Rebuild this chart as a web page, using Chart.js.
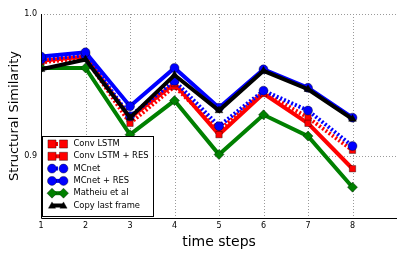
<!DOCTYPE html>
<html>
<head>
<meta charset="utf-8">
<script src="https://cdn.jsdelivr.net/npm/chart.js@4"></script>
<style>
  html, body { margin: 0; padding: 0; background: #fff; }
</style>
</head>
<body>
<canvas id="ssim" width="407" height="255"></canvas>
<script>
const steps = [1, 2, 3, 4, 5, 6, 7, 8];
const yTicks = [0.9, 1.0];

const convLstm    = [0.966, 0.969, 0.923, 0.949, 0.918, 0.945, 0.927, 0.904];
const convLstmRes = [0.967, 0.970, 0.927, 0.951, 0.915, 0.944, 0.923, 0.891];
const mcnet       = [0.968, 0.971, 0.928, 0.953, 0.921, 0.946, 0.932, 0.907];
const mcnetRes    = [0.970, 0.973, 0.935, 0.962, 0.934, 0.961, 0.948, 0.927];
const matheiu     = [0.962, 0.962, 0.915, 0.939, 0.901, 0.929, 0.914, 0.878];
const copyLast    = [0.961, 0.968, 0.927, 0.957, 0.932, 0.960, 0.947, 0.926];

Chart.defaults.font.family = "'DejaVu Sans', sans-serif";
Chart.defaults.color = '#000';

const pts = arr => arr.map((v, i) => ({ x: steps[i], y: v }));

function series(label, values, color, style, dotted, order) {
  return {
    label: label,
    data: pts(values),
    borderColor: color,
    backgroundColor: color,
    borderWidth: 4,
    borderDash: dotted ? [2, 2] : [],
    pointStyle: style,
    pointRadius: style === 'rectRot' ? 5 : 4.5,
    pointBorderColor: 'rgba(0,0,0,0.55)',
    pointBorderWidth: 0.7,
    pointBackgroundColor: color,
    tension: 0,
    order: order
  };
}

const datasets = [
  series('Conv LSTM', convLstm, '#ff0000', 'rect', true, 5),
  series('Conv LSTM + RES', convLstmRes, '#ff0000', 'rect', false, 4),
  series('MCnet', mcnet, '#0000ff', 'circle', true, 3),
  series('MCnet + RES', mcnetRes, '#0000ff', 'circle', false, 2),
  series('Matheiu et al', matheiu, '#008000', 'rectRot', false, 1),
  series('Copy last frame', copyLast, '#000000', 'triangle', false, 0)
];

function drawMarker(ctx, style, x, y, r) {
  ctx.beginPath();
  if (style === 'rect') {
    ctx.rect(x - r * 0.9, y - r * 0.9, r * 1.8, r * 1.8);
  } else if (style === 'circle') {
    ctx.arc(x, y, r, 0, Math.PI * 2);
  } else if (style === 'rectRot') {
    ctx.moveTo(x, y - r); ctx.lineTo(x + r, y); ctx.lineTo(x, y + r); ctx.lineTo(x - r, y);
    ctx.closePath();
  } else {
    ctx.moveTo(x, y - r * 0.8); ctx.lineTo(x + r * 0.8, y + r * 0.6); ctx.lineTo(x - r * 0.8, y + r * 0.6);
    ctx.closePath();
  }
  ctx.fill();
  ctx.stroke();
}

// dotted grid + left/bottom spines, matplotlib style
const mplGrid = {
  id: 'mplGrid',
  beforeDatasetsDraw(chart) {
    const ctx = chart.ctx;
    const a = chart.chartArea;
    const xs = chart.scales.x, ys = chart.scales.y;
    ctx.save();
    ctx.strokeStyle = '#9a9a9a';
    ctx.lineWidth = 1;
    ctx.setLineDash([1, 2]);
    steps.forEach(v => {
      const x = Math.round(xs.getPixelForValue(v)) + 0.5;
      ctx.beginPath(); ctx.moveTo(x, a.top); ctx.lineTo(x, a.bottom); ctx.stroke();
    });
    yTicks.forEach(v => {
      const y = Math.round(ys.getPixelForValue(v)) + 0.5;
      ctx.beginPath(); ctx.moveTo(a.left, y); ctx.lineTo(a.right, y); ctx.stroke();
    });
    ctx.restore();
  },
  afterDraw(chart) {
    const ctx = chart.ctx;
    const a = chart.chartArea;
    const xl = Math.round(a.left) + 0.5, yb = Math.round(a.bottom) + 0.5;
    ctx.save();
    ctx.setLineDash([]);
    ctx.strokeStyle = '#000';
    ctx.lineWidth = 1;
    ctx.beginPath();
    ctx.moveTo(xl, a.top);
    ctx.lineTo(xl, yb);
    ctx.lineTo(a.right, yb);
    ctx.stroke();
    ctx.restore();
  }
};

// matplotlib style legend inside the lower left corner of the plot
const boxLegend = {
  id: 'boxLegend',
  afterDraw(chart) {
    const ctx = chart.ctx;
    const area = chart.chartArea;
    const left = Math.round(area.left) + 1, top = Math.round(area.bottom) - 82;
    const w = 111, h = 80, rowH = 12.3;
    ctx.save();
    ctx.fillStyle = '#fff';
    ctx.fillRect(left, top, w, h);
    ctx.strokeStyle = '#000';
    ctx.lineWidth = 1;
    ctx.strokeRect(left + 0.5, top + 0.5, w, h);
    ctx.font = "8.4px 'DejaVu Sans'";
    ctx.textBaseline = 'middle';
    datasets.forEach((ds, i) => {
      const y = top + 8 + i * rowH;
      const x1 = left + 10, x2 = left + 21.5;
      ctx.strokeStyle = ds.borderColor;
      ctx.lineWidth = 4;
      ctx.setLineDash(ds.borderDash);
      ctx.beginPath();
      ctx.moveTo(x1, y);
      ctx.lineTo(x2, y);
      ctx.stroke();
      ctx.setLineDash([]);
      [x1, x2].forEach(x => {
        ctx.fillStyle = ds.backgroundColor;
        ctx.strokeStyle = 'rgba(0,0,0,0.55)';
        ctx.lineWidth = 0.7;
        drawMarker(ctx, ds.pointStyle, x, y, ds.pointRadius);
      });
      ctx.fillStyle = '#000';
      ctx.fillText(ds.label, left + 31.5, y);
    });
    ctx.restore();
  }
};

new Chart(document.getElementById('ssim'), {
  type: 'line',
  data: { datasets: datasets },
  options: {
    responsive: false,
    animation: false,
    devicePixelRatio: 1,
    layout: { padding: { top: 14, right: 10, left: 0, bottom: 0 } },
    plugins: { legend: { display: false }, tooltip: { enabled: false } },
    scales: {
      x: {
        type: 'linear',
        min: 1,
        max: 9,
        afterBuildTicks: s => { s.ticks = steps.map(v => ({ value: v })); },
        afterFit: s => { s.height = 37; },
        ticks: { font: { size: 8 }, padding: 3, callback: v => String(v) },
        grid: { display: false, drawTicks: false },
        border: { display: false },
        title: { display: true, text: 'time steps', font: { size: 14 }, padding: { top: 0, bottom: 4 } }
      },
      y: {
        min: 0.8563,
        max: 1.0,
        afterBuildTicks: s => { s.ticks = yTicks.map(v => ({ value: v })); },
        afterFit: s => { s.width = 41; },
        ticks: { font: { size: 8 }, padding: 4, callback: v => v.toFixed(1) },
        grid: { display: false, drawTicks: false },
        border: { display: false },
        title: { display: true, text: 'Structural Similarity', font: { size: 13 }, padding: { top: 7, bottom: 0 } }
      }
    }
  },
  plugins: [mplGrid, boxLegend]
});
</script>
</body>
</html>
